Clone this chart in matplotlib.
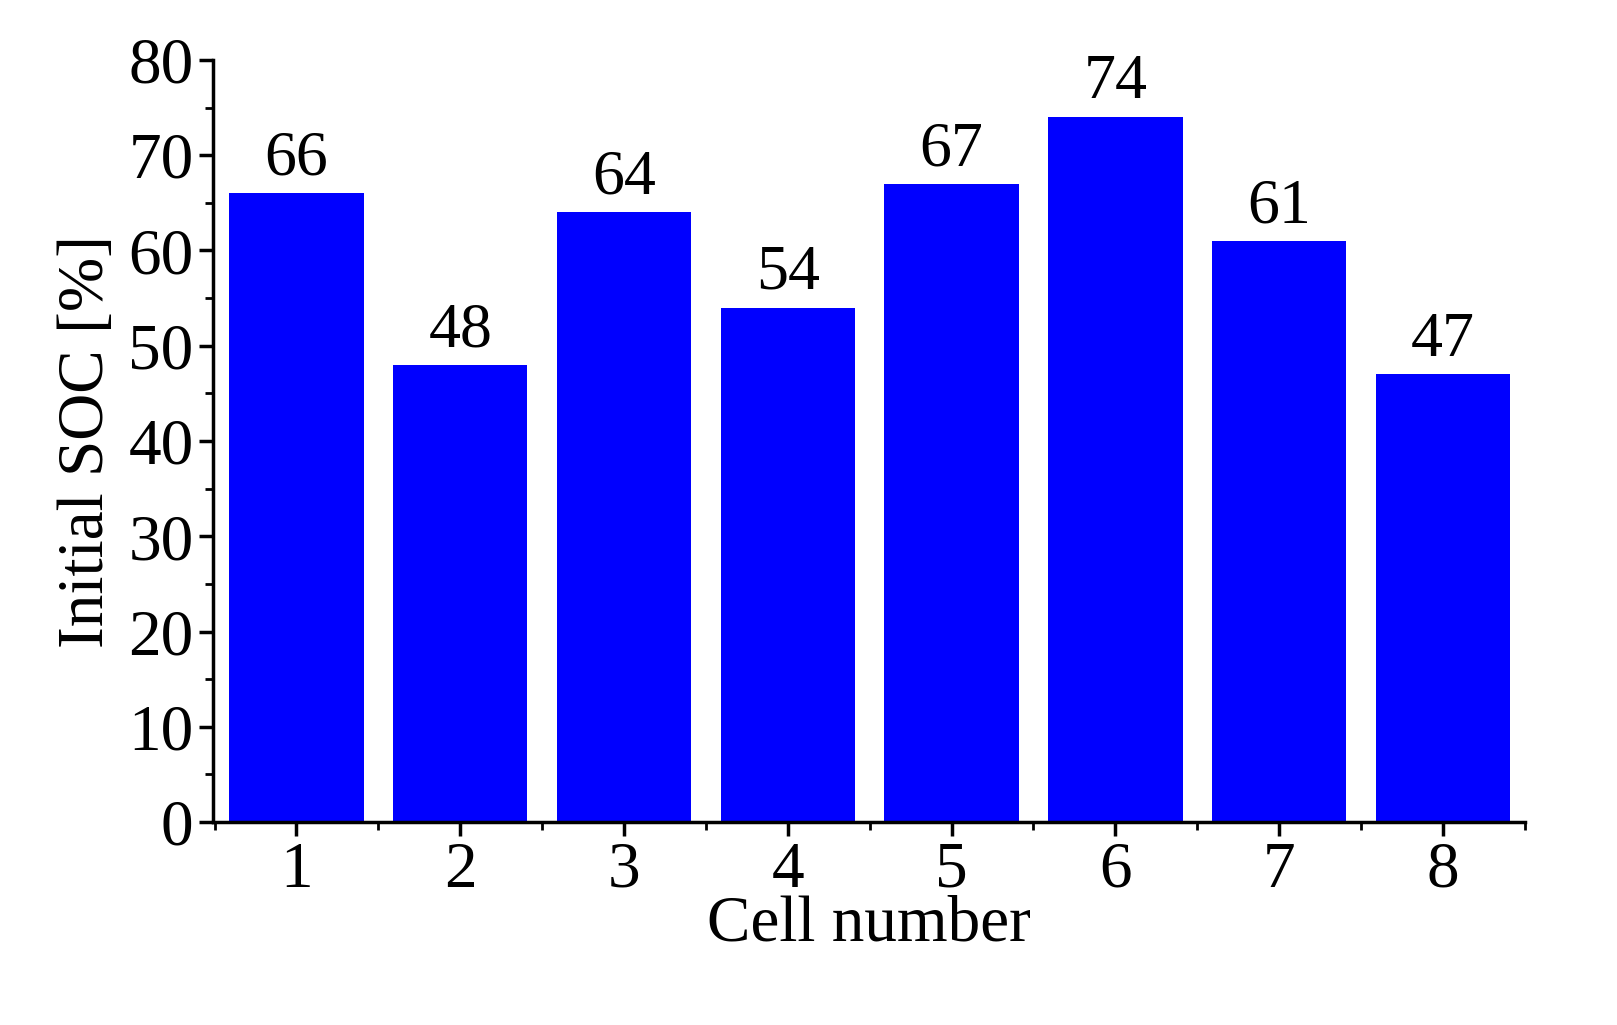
import matplotlib
matplotlib.use("Agg")
import matplotlib.pyplot as plt
from matplotlib.ticker import MultipleLocator

cells = [1, 2, 3, 4, 5, 6, 7, 8]
soc = [66, 48, 64, 54, 67, 74, 61, 47]

plt.rcParams["font.family"] = ["Liberation Serif", "DejaVu Serif"]

fig = plt.figure(figsize=(16.17, 10.25), dpi=100)
ax = fig.add_axes([0.1317, 0.198, 0.8113, 0.7435])
ax.bar(cells, soc, width=0.82, color="#0000ff")
for x, v in zip(cells, soc):
    ax.text(x, v + 0.5, str(v), ha="center", va="bottom", fontsize=46)

ax.set_xlim(0.49, 8.5)
ax.set_ylim(0, 80)
ax.xaxis.set_major_locator(MultipleLocator(1))
ax.xaxis.set_minor_locator(MultipleLocator(0.5))
ax.yaxis.set_major_locator(MultipleLocator(10))
ax.yaxis.set_minor_locator(MultipleLocator(5))
ax.tick_params(which="major", direction="out", length=10, width=2.5, labelsize=47, pad=4)
ax.tick_params(which="minor", direction="out", length=6, width=2)
for s in ["top", "right"]:
    ax.spines[s].set_visible(False)
for s in ["left", "bottom"]:
    ax.spines[s].set_linewidth(2.5)

ax.set_xlabel("Cell number", fontsize=47, labelpad=-4)
ax.set_ylabel("Initial SOC [%]", fontsize=47, labelpad=8)

fig.savefig("out.png", dpi=100)
